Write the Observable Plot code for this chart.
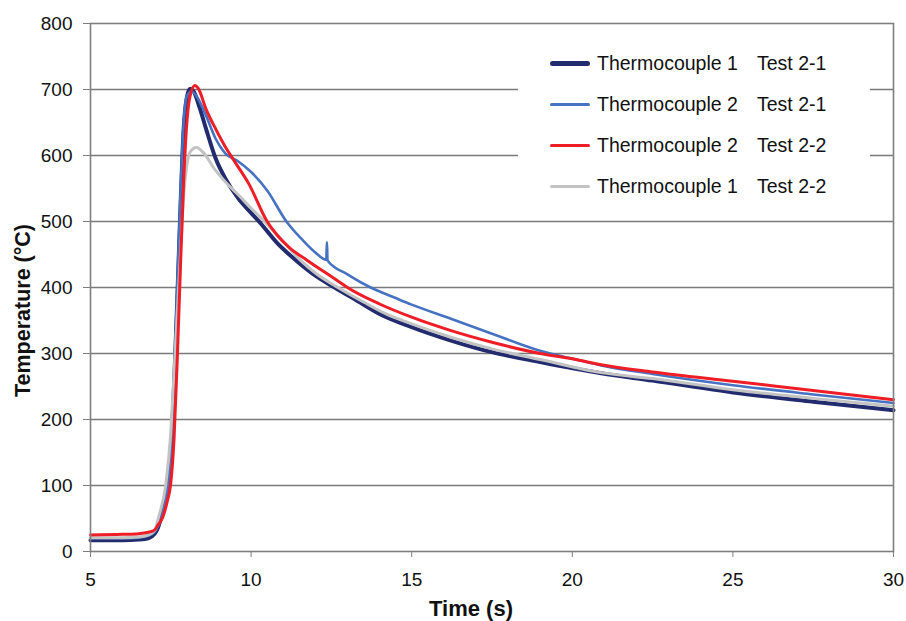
<!DOCTYPE html>
<html>
<head>
<meta charset="utf-8">
<script src="https://cdn.jsdelivr.net/npm/d3@7"></script>
<script src="https://cdn.jsdelivr.net/npm/@observablehq/plot@0.6"></script>
<style>
  body { margin: 0; background: #fff; font-family: Arial, "Liberation Sans", sans-serif; }
  #wrap { position: relative; width: 906px; height: 621px; }
  #legend { position: absolute; left: 518px; top: 40px; width: 352px; height: 168px; background: #fff; padding-top: 3px; box-sizing: border-box; }
  .row { height: 41px; display: flex; align-items: center; font-size: 19.5px; color: #111; }
  .sw { margin-left: 32px; width: 40px; border-radius: 3px; }
  .name { margin-left: 7px; width: 160px; }
</style>
</head>
<body>
<div id="wrap"></div>
<script>
// Series names (legend order)
const seriesNames = ["Thermocouple 1  Test 2-1", "Thermocouple 2  Test 2-1", "Thermocouple 2  Test 2-2", "Thermocouple 1  Test 2-2"];
const legendNames = ["Thermocouple 1", "Thermocouple 2", "Thermocouple 2", "Thermocouple 1"];
const legendTests = ["Test 2-1", "Test 2-1", "Test 2-2", "Test 2-2"];
const seriesColors = ["#232b6f", "#4672c2", "#ee1d26", "#c3c3c3"];

// [time (s), temperature (°C)]
const tc1Test21 = [[5,17],[5.5,17],[6,17],[6.5,18],[6.8,20],[7.0,27],[7.1,36],[7.2,52],[7.3,72],[7.4,100],[7.5,150],[7.6,250],[7.7,380],[7.8,520],[7.9,640],[8.0,688],[8.1,701],[8.2,698],[8.4,672],[8.6,640],[8.9,595],[9.2,565],[9.6,535],[10.0,513],[10.3,497],[10.8,468],[11.4,441],[12.0,418],[12.6,400],[13.3,380],[14.0,360],[15.0,340],[16.2,320],[17.5,302],[19.0,287],[20.9,270],[22.5,259],[25.0,241],[27.5,227],[30,214]];
const tc2Test21 = [[5,20],[6,20],[6.5,21],[6.8,24],[7.0,30],[7.2,50],[7.4,95],[7.5,150],[7.6,260],[7.7,400],[7.8,540],[7.9,650],[8.0,690],[8.15,697],[8.3,690],[8.6,660],[8.9,625],[9.2,603],[9.57,592],[10.0,575],[10.5,547],[11.1,500],[11.6,472],[12.0,453],[12.34,442],[12.36,469],[12.38,441],[13.0,420],[13.72,400],[14.5,384],[15.0,374],[16.2,353],[17.5,330],[19.0,304],[20.0,292],[20.9,282],[22.5,269],[25.0,252],[27.5,238],[30,225]];
const tc2Test22 = [[5,25],[6,26],[6.5,27],[6.87,30],[7.0,33],[7.1,40],[7.25,52],[7.4,78],[7.49,100],[7.6,170],[7.7,290],[7.8,430],[7.9,560],[8.0,650],[8.1,690],[8.25,706],[8.35,702],[8.6,670],[8.9,640],[9.2,613],[9.5,590],[9.93,557],[10.5,500],[10.8,480],[11.2,460],[11.75,441],[12.7,410],[13.0,400],[14.0,375],[15.0,355],[16.2,335],[17.5,317],[19.0,300],[20.0,292],[20.9,283],[22.5,272],[25.0,258],[27.5,244],[30,230]];
const tc1Test22 = [[5,21],[6,21],[6.5,22],[6.8,25],[7.0,32],[7.12,52],[7.34,100],[7.5,180],[7.6,270],[7.7,360],[7.8,450],[7.9,540],[8.0,585],[8.1,605],[8.3,612],[8.5,605],[8.9,577],[9.2,560],[9.57,542],[10.0,520],[10.4,501],[11.0,470],[11.54,441],[12.0,422],[12.7,400],[13.5,378],[14.2,360],[15.0,345],[16.2,325],[17.5,307],[19.0,291],[20.9,271],[22.5,262],[25.0,245],[27.5,232],[30,220]];

const xTicks = [5, 10, 15, 20, 25, 30];
const yTicks = [0, 100, 200, 300, 400, 500, 600, 700, 800];
const gridTicks = [100, 200, 300, 400, 500, 600, 700];

const seriesData = [tc1Test21, tc2Test21, tc2Test22, tc1Test22];
const seriesWidths = [4, 2.6, 3, 3];
// drawing order: navy, blue, gray, red
const drawOrder = [0, 1, 3, 2];

const rows = seriesData.map((pts, i) => pts.map(([t, v]) => ({t, v, s: seriesNames[i]})));

const marks = [
  Plot.gridY(gridTicks, {stroke: "#7a7a7a", strokeOpacity: 1, strokeWidth: 1.3}),
  ...drawOrder.map(i => Plot.line(rows[i], {x: "t", y: "v", stroke: seriesColors[i], strokeWidth: seriesWidths[i], curve: "monotone-x"})),
  Plot.frame({stroke: "#7f7f7f", strokeWidth: 1.6}),
  Plot.axisX({ticks: xTicks, tickSize: 6, tickPadding: 15, fontSize: 19, label: null, stroke: "#7f7f7f"}),
  Plot.axisY({ticks: yTicks, tickSize: 7, tickPadding: 11, fontSize: 19, label: null, stroke: "#7f7f7f"}),
  Plot.text(["Time (s)"], {text: d => d, frameAnchor: "bottom", textAnchor: "middle", lineAnchor: "middle", dx: -21, dy: 57, fontSize: 22, fontWeight: "bold"}),
  Plot.text(["Temperature (°C)"], {text: d => d, frameAnchor: "left", textAnchor: "middle", lineAnchor: "middle", rotate: -90, dx: -67, dy: 23, fontSize: 21.5, fontWeight: "bold"})
];

const chart = Plot.plot({
  width: 906,
  height: 621,
  marginLeft: 90,
  marginRight: 13,
  marginTop: 23,
  marginBottom: 70,
  style: {fontFamily: "Arial, 'Liberation Sans', sans-serif", color: "#111", background: "#fff", overflow: "visible"},
  x: {domain: [5, 30]},
  y: {domain: [0, 800]},
  marks
});

const wrap = document.getElementById("wrap");
wrap.appendChild(chart);

const legend = document.createElement("div");
legend.id = "legend";
legendNames.forEach((n, i) => {
  const row = document.createElement("div");
  row.className = "row";
  const sw = document.createElement("div");
  sw.className = "sw";
  sw.style.borderTop = `${i === 0 ? 5 : 3}px solid ${seriesColors[i]}`;
  const name = document.createElement("span");
  name.className = "name";
  name.textContent = n;
  const test = document.createElement("span");
  test.textContent = legendTests[i];
  row.append(sw, name, test);
  legend.appendChild(row);
});
wrap.appendChild(legend);
</script>
</body>
</html>
